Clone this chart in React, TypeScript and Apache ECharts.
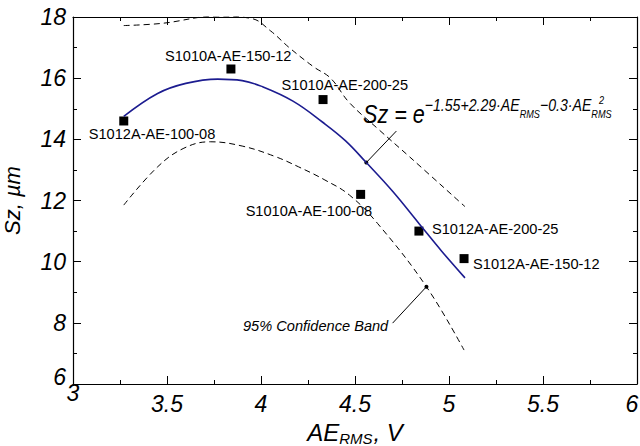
import React, { useEffect, useRef } from "react";
import * as echarts from "echarts";

// ---- data ----
const sampleNames = [
  "S1012A-AE-100-08",
  "S1010A-AE-150-12",
  "S1010A-AE-200-25",
  "S1010A-AE-100-08",
  "S1012A-AE-200-25",
  "S1012A-AE-150-12",
];
const sampleAE = [3.27, 3.84, 4.33, 4.53, 4.84, 5.08];
const sampleSz = [14.6, 16.3, 15.3, 12.2, 11.0, 10.1];

const fitAE = [3.27, 3.45, 3.6, 3.77, 3.9, 4.0, 4.17, 4.33, 4.45, 4.56, 4.7, 4.84, 4.96, 5.085];
const fitSz = [14.75, 15.5, 15.83, 15.97, 15.92, 15.74, 15.25, 14.55, 13.95, 13.24, 12.3, 11.25, 10.35, 9.47];

const upperAE = [3.27, 3.47, 3.77, 3.95, 4.05, 4.15, 4.28, 4.37, 4.47, 4.63, 4.79, 5.085];
const upperSz = [17.72, 17.79, 18.03, 17.95, 17.55, 17.0, 16.37, 16.0, 15.2, 14.3, 13.43, 11.8];

const lowerAE = [3.27, 3.45, 3.59, 3.73, 3.9, 4.07, 4.2, 4.34, 4.47, 4.62, 4.88, 5.08];
const lowerSz = [11.85, 13.1, 13.71, 13.92, 13.78, 13.45, 13.1, 12.67, 12.18, 11.25, 9.18, 7.11];

// annotation anchor points (on curves) and leader-line ends
const fitNoteAt = [4.56, 13.24];
const fitNoteEnd = [4.72, 14.27];
const bandNoteAt = [4.88, 9.18];
const bandNoteEnd = [4.7, 7.99];

const xTicks = { min: 3, max: 6, step: 0.5 };
const yTicks = { min: 6, max: 18, step: 2 };

const zip = (a: number[], b: number[]) => a.map((v, i) => [v, b[i]]);

// label placement (layout only)
const labelOffsets: Record<string, [number, number]> = {
  "S1012A-AE-100-08": [-35, 13.5],
  "S1010A-AE-150-12": [-66, -12.5],
  "S1010A-AE-200-25": [-41.5, -15],
  "S1010A-AE-100-08": [-115, 16.5],
  "S1012A-AE-200-25": [13, -1.8],
  "S1012A-AE-150-12": [9, 5],
};

const FONT = "'Liberation Sans', Arial, sans-serif";
const FX = 0.83; // horizontal squeeze for annotation formula

export default function App() {
  const ref = useRef<HTMLDivElement>(null);
  useEffect(() => {
    if (!ref.current) return;
    const chart = echarts.init(ref.current, null, { renderer: "svg" });
    const axisCommon = {
      axisLine: { show: true, lineStyle: { color: "#000", width: 1.2 } },
      axisTick: { show: true, inside: true, length: 8, lineStyle: { color: "#000", width: 1 } },
      minorTick: { show: true, splitNumber: 2, length: 4, lineStyle: { color: "#000", width: 1 } },
      splitLine: { show: false },
    };
    const tickFont = { fontFamily: FONT, fontStyle: "italic", fontSize: 23, color: "#000" };
    chart.setOption({
      animation: false,
      backgroundColor: "#fff",
      grid: { left: 73, right: 3, top: 17, bottom: 62, outerBoundsMode: "none", containLabel: false },
      xAxis: [
        {
          type: "value",
          min: xTicks.min,
          max: xTicks.max,
          interval: xTicks.step,
          ...axisCommon,
          axisLabel: {
            ...tickFont,
            margin: 20,
            verticalAlign: "middle",
            showMinLabel: true,
            showMaxLabel: true,
            formatter: (v: number) =>
              v === xTicks.min ? "{lo|" + v + "}" : v === xTicks.max ? "{end|" + v + "}" : String(v),
            rich: {
              lo: { ...tickFont, padding: [0, 0, 22, 0] },
              end: { ...tickFont, padding: [0, 10, 0, 0] },
            },
          },
          name: "{i|AE}{sub|RMS}{i|, V}",
          nameLocation: "middle",
          nameGap: 27,
          nameTextStyle: {
            rich: {
              i: { fontFamily: FONT, fontStyle: "italic", fontSize: 24, color: "#000" },
              sub: { fontFamily: FONT, fontStyle: "italic", fontSize: 15, color: "#000", padding: [12, 1, 0, 0] },
            },
          },
        },
        {
          type: "value",
          position: "top",
          min: xTicks.min,
          max: xTicks.max,
          interval: xTicks.step,
          ...axisCommon,
          axisLabel: { show: false },
        },
      ],
      yAxis: [
        {
          type: "value",
          min: yTicks.min,
          max: yTicks.max,
          interval: yTicks.step,
          ...axisCommon,
          axisLabel: {
            ...tickFont,
            margin: 7,
            showMinLabel: true,
            showMaxLabel: true,
            formatter: (v: number) => (v === yTicks.min ? "{lo|" + v + "}" : String(v)),
            rich: { lo: { ...tickFont, padding: [0, 0, 14, 0] } },
          },
          name: "Sz, µm",
          nameLocation: "middle",
          nameGap: 50,
          nameTextStyle: { fontFamily: FONT, fontStyle: "italic", fontSize: 22, color: "#000" },
        },
        {
          type: "value",
          position: "right",
          min: yTicks.min,
          max: yTicks.max,
          interval: yTicks.step,
          ...axisCommon,
          axisLabel: { show: false },
        },
      ],
      series: [
        {
          type: "line",
          data: zip(upperAE, upperSz),
          smooth: 0.4,
          showSymbol: false,
          lineStyle: { color: "#000", width: 1, type: [6, 4] },
        },
        {
          type: "line",
          data: zip(lowerAE, lowerSz),
          smooth: 0.4,
          showSymbol: false,
          lineStyle: { color: "#000", width: 1, type: [6, 4] },
        },
        {
          type: "line",
          data: zip(fitAE, fitSz),
          smooth: 0.4,
          showSymbol: false,
          lineStyle: { color: "#1c1c90", width: 1.6 },
        },
        {
          type: "scatter",
          symbol: "rect",
          symbolSize: 9,
          itemStyle: { color: "#000", opacity: 1 },
          data: sampleNames.map((n, i) => ({
            name: n,
            value: [sampleAE[i], sampleSz[i]],
            label: {
              show: true,
              position: "inside",
              align: "left",
              verticalAlign: "middle",
              offset: labelOffsets[n],
              formatter: "{b}",
              fontFamily: FONT,
              fontSize: 14.6,
              color: "#000",
            },
          })),
        },
        {
          type: "scatter",
          symbol: "circle",
          symbolSize: 4,
          itemStyle: { color: "#000", opacity: 1 },
          data: [fitNoteAt, bandNoteAt],
          markLine: {
            silent: true,
            symbol: "none",
            label: { show: false },
            lineStyle: { color: "#000", width: 1, type: "solid" },
            data: [
              [{ coord: fitNoteAt }, { coord: fitNoteEnd }],
              [{ coord: bandNoteAt }, { coord: bandNoteEnd }],
            ],
          },
        },
      ],
      graphic: [
        {
          type: "text",
          x: 363,
          y: 114,
          scaleX: FX,
          style: {
            text: "{big|Sz = e}{sup|−1.55+2.29·AE}{sub|RMS}{sup|−0.3·AE}{sub|RMS}",
            verticalAlign: "middle",
            rich: {
              big: { fontFamily: FONT, fontStyle: "italic", fontSize: 26, fill: "#000" },
              sup: { fontFamily: FONT, fontStyle: "italic", fontSize: 17, fill: "#000", padding: [0, 0, 18, 0] },
              sub: { fontFamily: FONT, fontStyle: "italic", fontSize: 11, fill: "#000" },
            },
          },
        },
        {
          type: "text",
          x: 599,
          y: 100,
          scaleX: FX,
          style: { text: "2", fontFamily: FONT, fontStyle: "italic", fontSize: 11, fill: "#000", verticalAlign: "middle" },
        },
        {
          type: "text",
          x: 243,
          y: 326,
          style: {
            text: "95% Confidence Band",
            fontFamily: FONT,
            fontStyle: "italic",
            fontSize: 14.6,
            fill: "#000",
            verticalAlign: "middle",
          },
        },
      ],
    });
    return () => chart.dispose();
  }, []);
  return <div ref={ref} style={{ width: 640, height: 446, position: "absolute", left: 0, top: 0 }} />;
}
